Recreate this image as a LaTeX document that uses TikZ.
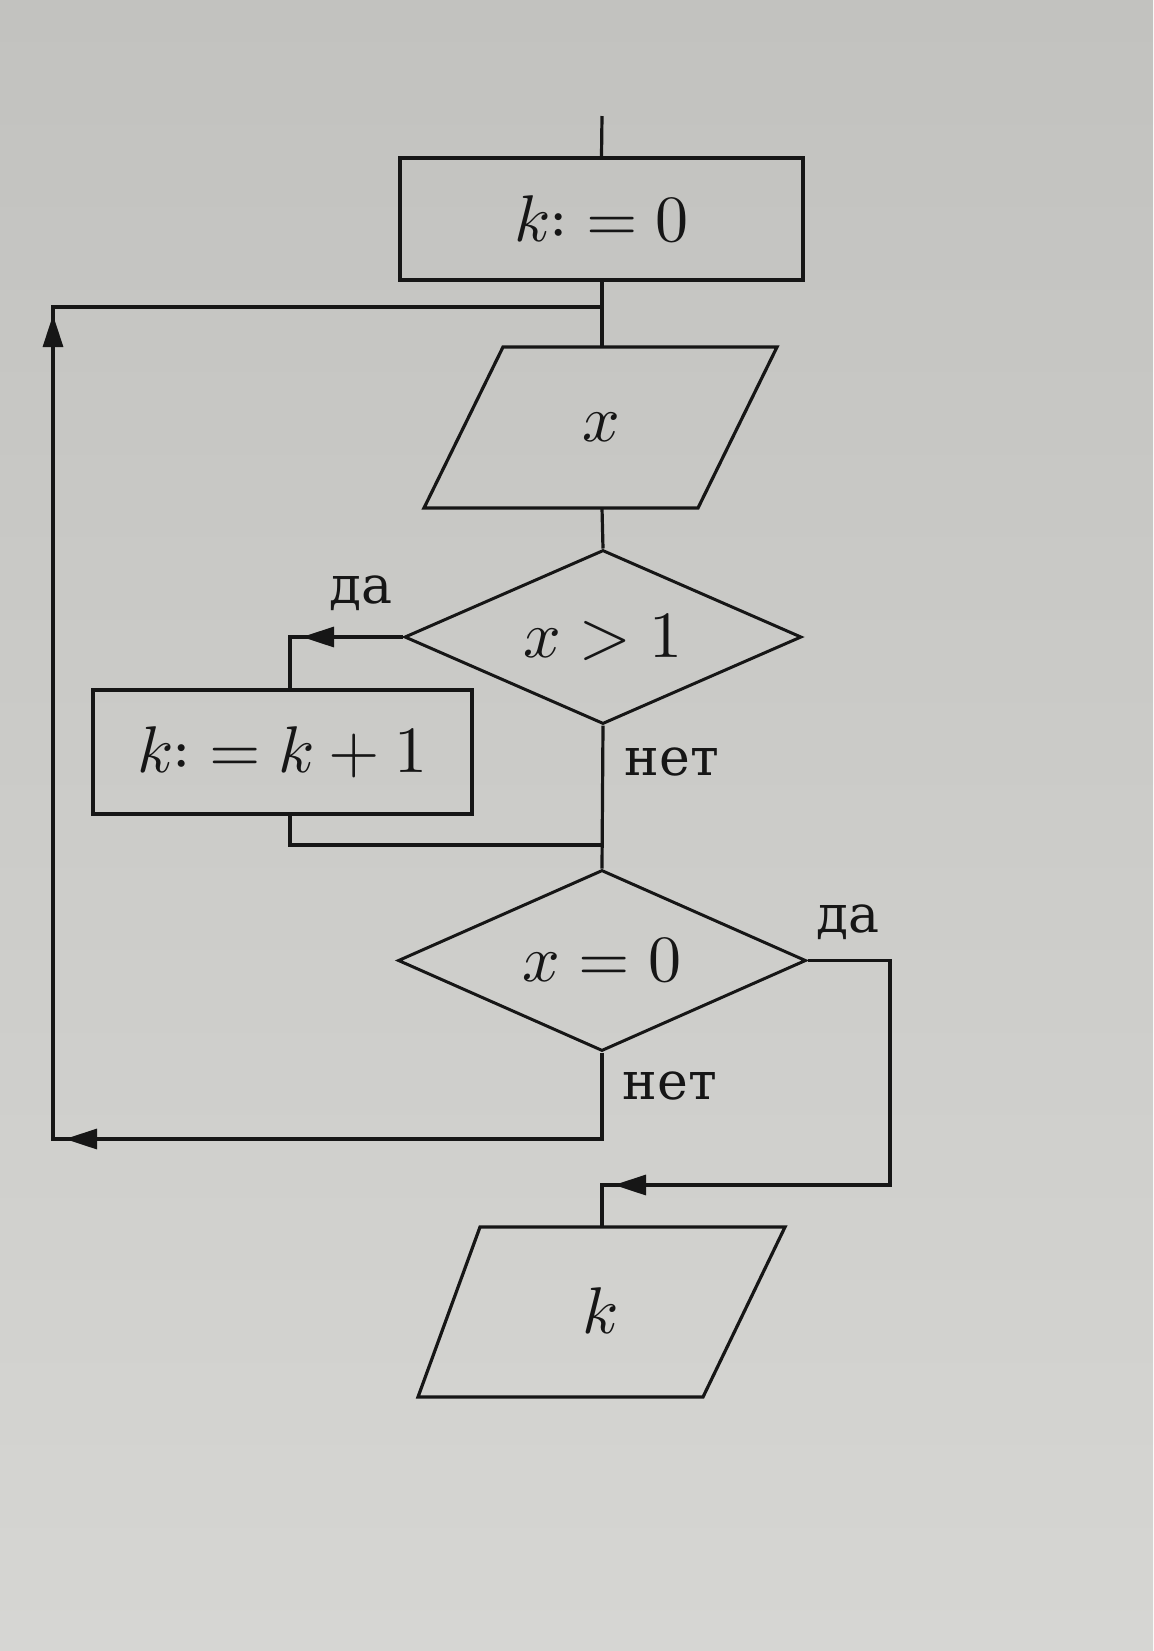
\documentclass[tikz,border=0pt]{standalone}
\usepackage{fontspec}
\usepackage{unicode-math}
\setmainfont{Liberation Serif}
\newfontfamily\lblfont{DejaVu Serif}
\setmathfont{Latin Modern Math}
\usetikzlibrary{shapes.geometric,arrows.meta,calc}
\definecolor{papertop}{RGB}{194,194,191}
\definecolor{paperbot}{RGB}{214,214,211}
\definecolor{ink}{RGB}{22,22,22}
\begin{document}
\begin{tikzpicture}[x=0.5pt,y=-0.5pt,
  color=ink, line width=1.6pt,
  mtext/.style={font=\fontsize{33}{38}\selectfont, text=ink},
  proc/.style={draw, rectangle, line width=1.8pt, inner sep=0pt, mtext},
  dec/.style={draw, diamond, aspect=2.3, line width=1.5pt, inner sep=0pt, mtext},
  iobox/.style={line width=1.6pt, line join=miter},
  lbl/.style={font=\lblfont\fontsize{26}{30}\selectfont, text=ink, inner sep=0pt, anchor=base west},
  tip/.style={-{Triangle[length=16pt,width=10pt]}}]
\useasboundingbox (0,0) rectangle (1153,1651);
\shade[top color=papertop, bottom color=paperbot, draw=none] (0,0) rectangle (1153,1651);

% nodes
\node[proc, minimum width=201.5pt, minimum height=61pt] (A) at (601.5,219) {$k{:}\;{=}\;0$};
\node[dec, minimum width=198.5pt, minimum height=87pt] (D1) at (603,637) {$x>1$};
\node[proc, minimum width=189.5pt, minimum height=62pt] (B) at (282.5,752) {$k{:}\;{=}\;k+1$};
\node[dec, minimum width=204pt, minimum height=90.5pt] (D2) at (602,960.5) {$x=0$};

% parallelograms
\draw[iobox] (503,347) -- (777,347) -- (698,508) -- (424,508) -- cycle;
\node[mtext] (X) at (601,427) {$x$};
\draw[iobox] (480,1227) -- (785,1227) -- (703,1397) -- (418,1397) -- cycle;
\node[mtext] (K) at (600,1311) {$k$};

% coordinates
\coordinate (start) at (602,116);
\coordinate (J1) at (602,307);
\coordinate (Xt) at (602,347);
\coordinate (Xb) at (602,508);
\coordinate (c1) at (290,637);
\coordinate (J2) at (602,845);
\coordinate (R) at (890,1185);
\coordinate (J3) at (602,1185);
\coordinate (Kt) at (602,1227);
\coordinate (L1) at (602,1139);
\coordinate (L2) at (53,1139);
\coordinate (L3) at (53,307);

% connectors
\draw (start) -- (A.north);
\draw (A.south -| start) -- (Xt);
\draw (Xb) -- (D1.north);
\draw (D1.south) -- (D2.north);
\draw (D1.west) -- (c1) -- (c1 |- B.north);
\draw (c1 |- B.south) -- (c1 |- J2) -- (J2);
\draw (D2.east) -- (D2.east -| R) -- (R) -- (J3) -- (Kt);
\draw (D2.south) -- (L1) -- (L2) -- (L3) -- (J1);

% arrowheads
\draw[tip] ($(c1)+(40,0)$) -- ($(c1)+(12,0)$);
\draw[tip] ($(L2)+(40,0)$) -- ($(L2)+(12,0)$);
\draw[tip] ($(L3)+(0,40)$) -- ($(L3)+(0,8)$);
\draw[tip] ($(J3)+(40,0)$) -- ($(J3)+(12,0)$);

% labels
\node[lbl] (da1) at (328,603) {да};
\node[lbl] (net1) at (623,775) {нет};
\node[lbl] (da2) at (815,932) {да};
\node[lbl] (net2) at (621,1099) {нет};
\end{tikzpicture}
\end{document}
